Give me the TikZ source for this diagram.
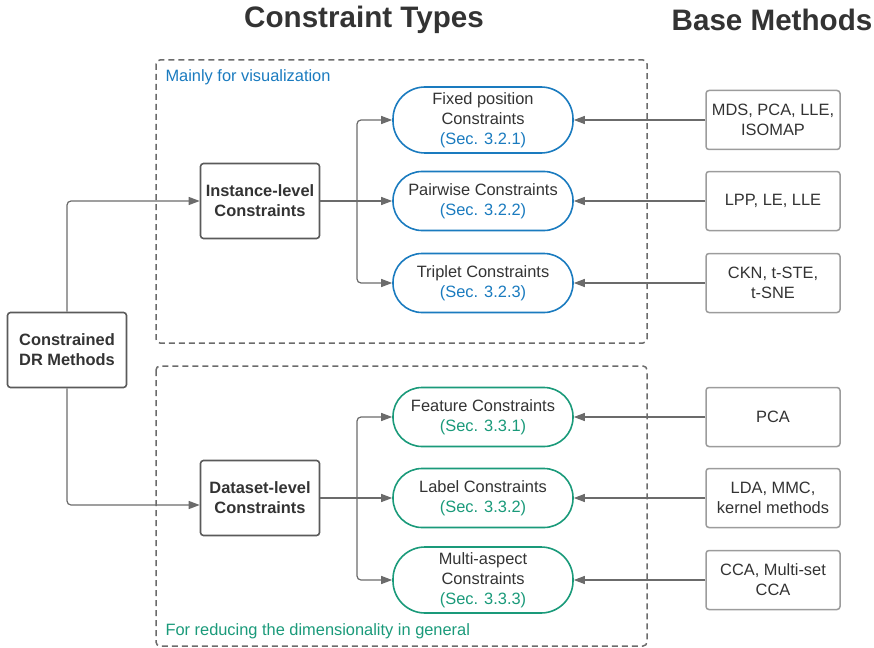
\documentclass[tikz,border=0pt]{standalone}
\usepackage{fontspec}
\setmainfont{Liberation Sans}
\usepackage{xcolor}
\usepackage{tikz}
\usetikzlibrary{arrows.meta, positioning, calc}

\definecolor{secblue}{HTML}{1A7BBF}
\definecolor{secgreen}{HTML}{1A9A7A}
\definecolor{darkline}{HTML}{5A5A5A}
\definecolor{lightline}{HTML}{9C9C9C}
\definecolor{txtgray}{HTML}{333333}

\newcommand{\bodyfont}{\fontsize{16.4}{20}\selectfont}

\tikzset{
  mainbox/.style={draw=darkline, line width=1.6pt, rounded corners=3pt, fill=white,
    minimum width=119pt, minimum height=75pt, align=center, text=txtgray, font=\bodyfont\bfseries},
  basebox/.style={draw=lightline, line width=1.5pt, rounded corners=3pt, fill=white,
    minimum width=134pt, minimum height=59pt, align=center, text=txtgray},
  pill/.style={line width=1.6pt, rounded corners=29pt, fill=white,
    minimum width=180pt, minimum height=59pt, align=center, text=txtgray},
  bluepill/.style={pill, draw=secblue},
  greenpill/.style={pill, draw=secgreen},
  group/.style={draw=darkline!90, line width=1.5pt, dash pattern=on 6pt off 4pt, rounded corners=4pt},
  conn/.style={draw=darkline!90, line width=1.2pt, rounded corners=4pt, -{Triangle[length=11pt, width=8pt]}},
}

\begin{document}
\begin{tikzpicture}[x=1pt, y=-1pt, font=\bodyfont]
  \useasboundingbox (0,0) rectangle (874,647);

  % Titres
  \node[font=\bfseries\fontsize{29.6}{34}\selectfont, text=txtgray] (typetitle) at (364,20) {Constraint Types};
  \node[font=\bfseries\fontsize{29.6}{34}\selectfont, text=txtgray] (basetitle) at (772,20) {Base Methods};

  % Groupes
  \draw[group] (156,60) rectangle (647,343);
  \draw[group] (156,366) rectangle (647,646);
  \node[anchor=west, text=secblue] (vislabel) at (162,77) {Mainly for visualization};
  \node[anchor=west, text=secgreen] (redlabel) at (162,631) {For reducing the dimensionality in general};

  % Niveaux
  \node[mainbox] (drm) at (67,350) {Constrained\\DR Methods};
  \node[mainbox] (inst) at (260,201) {Instance-level\\Constraints};
  \node[mainbox] (data) at (260,498) {Dataset-level\\Constraints};

  % Contraintes
  \node[bluepill, minimum height=66pt, rounded corners=32pt] (fixed) at (483,120) {Fixed position\\Constraints\\\textcolor{secblue}{(Sec. 3.2.1)}};
  \node[bluepill] (pair) at (483,201) {Pairwise Constraints\\\textcolor{secblue}{(Sec. 3.2.2)}};
  \node[bluepill] (trip) at (483,283) {Triplet Constraints\\\textcolor{secblue}{(Sec. 3.2.3)}};
  \node[greenpill] (feat) at (483,417) {Feature Constraints\\\textcolor{secgreen}{(Sec. 3.3.1)}};
  \node[greenpill] (lab) at (483,498) {Label Constraints\\\textcolor{secgreen}{(Sec. 3.3.2)}};
  \node[greenpill, minimum height=66pt, rounded corners=32pt] (multi) at (483,580) {Multi-aspect\\Constraints\\\textcolor{secgreen}{(Sec. 3.3.3)}};

  % Methodes de base
  \node[basebox] (mds) at (773,120) {MDS, PCA, LLE,\\ISOMAP};
  \node[basebox] (lpp) at (773,201) {LPP, LE, LLE};
  \node[basebox] (ckn) at (773,283) {CKN, t-STE,\\t-SNE};
  \node[basebox] (pca) at (773,417) {PCA};
  \node[basebox] (lda) at (773,498) {LDA, MMC,\\kernel methods};
  \node[basebox] (cca) at (773,580) {CCA, Multi-set\\CCA};

  % Liens
  \draw[conn] (drm.north) |- (inst.west);
  \draw[conn] (drm.south) |- ([yshift=-7pt]data.west);

  \coordinate (forkA) at (357,201);
  \coordinate (forkB) at (357,498);
  \draw[conn] (inst.east) -- (pair.west);
  \draw[conn] (forkA) |- (fixed.west);
  \draw[conn] (forkA) |- (trip.west);
  \draw[conn] (data.east) -- (lab.west);
  \draw[conn] (forkB) |- (feat.west);
  \draw[conn] (forkB) |- (multi.west);

  \draw[conn] (mds.west) -- (fixed.east);
  \draw[conn] (lpp.west) -- (pair.east);
  \draw[conn] (ckn.west) -- (trip.east);
  \draw[conn] (pca.west) -- (feat.east);
  \draw[conn] (lda.west) -- (lab.east);
  \draw[conn] (cca.west) -- (multi.east);
\end{tikzpicture}
\end{document}
